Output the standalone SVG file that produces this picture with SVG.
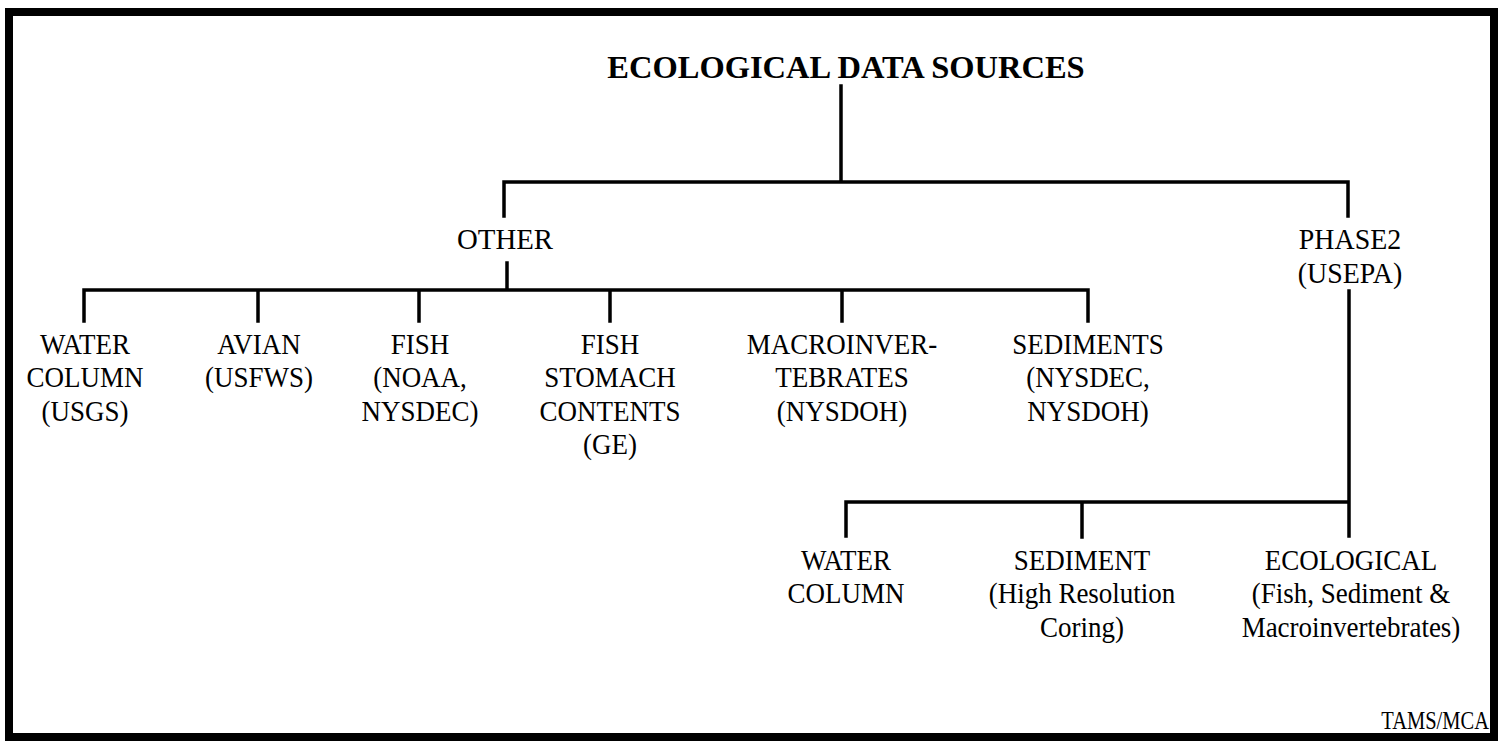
<svg xmlns="http://www.w3.org/2000/svg" width="1503" height="743" viewBox="0 0 1503 743">
<style>
.t{font-family:"Liberation Serif","Times New Roman",serif;font-size:30px;fill:#000;text-anchor:middle}
.title{font-family:"Liberation Serif","Times New Roman",serif;font-size:32.5px;font-weight:bold;fill:#000;text-anchor:middle}
.c{stroke:#000;stroke-width:3.5;fill:none;stroke-linecap:square}
</style>
<rect x="9" y="12" width="1485" height="725" fill="#fff" stroke="#000" stroke-width="8"/>
<g id="connectors" class="c">
<path d="M841,86 V182 M504,182 H1348 M504,182 V216 M1348,182 V216"/>
<path d="M507,263 V290 M84,290 H1088 M84,290 V321 M258,290 V321 M419,290 V321 M610,290 V321 M842,290 V321 M1088,290 V321"/>
<path d="M1349,291 V502 M846,502 H1349 M846,502 V536 M1082,502 V537 M1349,502 V536"/>
</g>
<g id="n-root"><text class="title" x="846" y="78">ECOLOGICAL DATA SOURCES</text></g>
<g id="n-other" transform="translate(505,0) scale(0.96,1)"><text class="t" x="0" y="249">OTHER</text></g>
<g id="n-phase2" transform="translate(1350,0) scale(0.93,1)"><text class="t" x="0" y="249">PHASE2</text><text class="t" x="0" y="283">(USEPA)</text></g>
<g id="n-water" transform="translate(85,0) scale(0.9,1)"><text class="t" x="0" y="354">WATER</text><text class="t" x="0" y="387">COLUMN</text><text class="t" x="0" y="421">(USGS)</text></g>
<g id="n-avian" transform="translate(259,0) scale(0.9,1)"><text class="t" x="0" y="354">AVIAN</text><text class="t" x="0" y="387">(USFWS)</text></g>
<g id="n-fish" transform="translate(420,0) scale(0.9,1)"><text class="t" x="0" y="354">FISH</text><text class="t" x="0" y="387">(NOAA,</text><text class="t" x="0" y="421">NYSDEC)</text></g>
<g id="n-stomach" transform="translate(610,0) scale(0.9,1)"><text class="t" x="0" y="354">FISH</text><text class="t" x="0" y="387">STOMACH</text><text class="t" x="0" y="421">CONTENTS</text><text class="t" x="0" y="454">(GE)</text></g>
<g id="n-macro" transform="translate(842,0) scale(0.9,1)"><text class="t" x="0" y="354">MACROINVER-</text><text class="t" x="0" y="387">TEBRATES</text><text class="t" x="0" y="421">(NYSDOH)</text></g>
<g id="n-sediments" transform="translate(1088,0) scale(0.9,1)"><text class="t" x="0" y="354">SEDIMENTS</text><text class="t" x="0" y="387">(NYSDEC,</text><text class="t" x="0" y="421">NYSDOH)</text></g>
<g id="n-p2water" transform="translate(846,0) scale(0.9,1)"><text class="t" x="0" y="570">WATER</text><text class="t" x="0" y="603">COLUMN</text></g>
<g id="n-p2sediment" transform="translate(1082,0) scale(0.9,1)"><text class="t" x="0" y="570">SEDIMENT</text><text class="t" x="0" y="603">(High Resolution</text><text class="t" x="0" y="637">Coring)</text></g>
<g id="n-p2eco" transform="translate(1351,0) scale(0.9,1)"><text class="t" x="0" y="570">ECOLOGICAL</text><text class="t" x="0" y="603">(Fish, Sediment &amp;</text><text class="t" x="0" y="637">Macroinvertebrates)</text></g>
<g id="credit" transform="translate(1489,0) scale(0.82,1)"><text x="0" y="729" font-family="'Liberation Serif','Times New Roman',serif" font-size="25" text-anchor="end">TAMS/MCA</text></g>
</svg>
